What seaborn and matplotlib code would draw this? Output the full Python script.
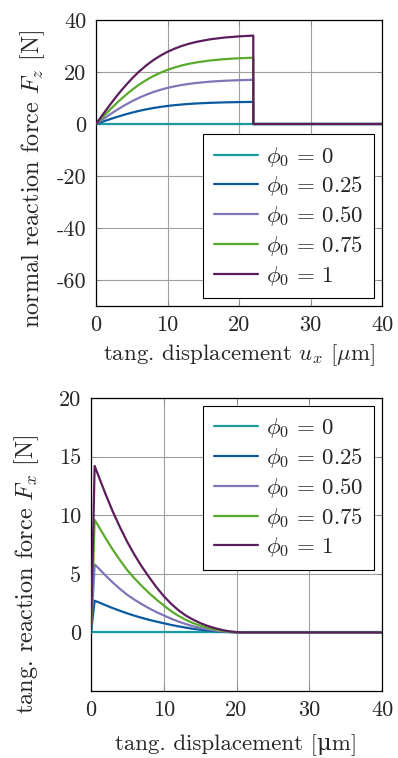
import numpy as np
import pandas as pd
import matplotlib
matplotlib.use("Agg")
import matplotlib.pyplot as plt
import seaborn as sns
from matplotlib.ticker import FuncFormatter

# ---------------- data ----------------
phi_labels = [r"$\phi_0\,=\,0$", r"$\phi_0\,=\,0.25$", r"$\phi_0\,=\,0.50$",
              r"$\phi_0\,=\,0.75$", r"$\phi_0\,=\,1$"]
colors = ["#189ca0", "#0a5aa2", "#7d77b8", "#5aab2c", "#5c1d5c"]

# normal reaction force F_z vs tangential displacement
ux_top = [0, 1, 2, 3, 4, 5, 6, 7, 8, 9, 10, 11, 12, 13, 14, 16, 18, 20, 22, 22, 40]
fz_000 = [0] * 21
fz_025 = [0, 0.96, 1.89, 2.77, 3.6, 4.35, 5.03, 5.62, 6.14, 6.57, 6.94, 7.25, 7.5,
          7.72, 7.89, 8.15, 8.32, 8.43, 8.5, 0, 0]
fz_050 = [0, 1.91, 3.77, 5.55, 7.2, 8.71, 10.06, 11.24, 12.27, 13.14, 13.88, 14.5,
          15.01, 15.43, 15.78, 16.3, 16.63, 16.85, 17.0, 0, 0]
fz_075 = [0, 2.87, 5.66, 8.32, 10.79, 13.06, 15.08, 16.85, 18.41, 19.71, 20.82,
          21.74, 22.52, 23.15, 23.67, 24.44, 24.95, 25.28, 25.5, 0, 0]
fz_100 = [0, 3.82, 7.54, 11.09, 14.39, 17.41, 20.11, 22.47, 24.54, 26.28, 27.76,
          28.99, 30.02, 30.86, 31.56, 32.59, 33.26, 33.70, 34.0, 0, 0]

# tangential reaction force F_x vs tangential displacement
ux_bot = [0, 0.5, 1, 2, 3, 4, 5, 6, 7, 8, 9, 10, 11, 12, 13, 14, 15, 16, 17, 18,
          19, 20, 21, 40]
fx_000 = [0] * 24
fx_025 = [0, 2.7, 2.58, 2.32, 2.07, 1.84, 1.62, 1.42, 1.24, 1.07, 0.92, 0.78, 0.64,
          0.52, 0.41, 0.31, 0.23, 0.16, 0.1, 0.05, 0.02, 0.005, 0, 0]
fx_050 = [0, 5.8, 5.5, 4.85, 4.25, 3.7, 3.2, 2.78, 2.4, 2.05, 1.73, 1.45, 1.18,
          0.93, 0.72, 0.53, 0.38, 0.26, 0.16, 0.09, 0.04, 0.01, 0, 0]
fx_075 = [0, 9.6, 9.1, 8.05, 7.05, 6.15, 5.3, 4.6, 3.95, 3.35, 2.8, 2.3, 1.82,
          1.42, 1.08, 0.8, 0.58, 0.4, 0.26, 0.14, 0.06, 0.01, 0, 0]
fx_100 = [0, 14.2, 13.4, 11.8, 10.3, 8.95, 7.7, 6.6, 5.6, 4.7, 3.85, 3.1, 2.45,
          1.9, 1.45, 1.1, 0.8, 0.56, 0.37, 0.21, 0.09, 0.02, 0, 0]

x_ticks = [0, 10, 20, 30, 40]
top_yticks = [-60, -40, -20, 0, 20, 40]
bot_yticks = [0, 5, 10, 15, 20]

# ---------------- style ----------------
sns.set_theme(style="white")
plt.rcParams["font.family"] = ["cmr10", "DejaVu Serif"]
plt.rcParams["mathtext.fontset"] = "cm"
plt.rcParams["axes.unicode_minus"] = False
plt.rcParams["axes.formatter.use_mathtext"] = True
FS_TICK = 16
FS_TXT = 16.5
FS_YLAB = 17.5

def long_df(x, series):
    frames = []
    for lab, ys in zip(phi_labels, series):
        frames.append(pd.DataFrame({"x": x, "y": ys, "phi": lab}))
    return pd.concat(frames, ignore_index=True)

df_top = long_df(ux_top, [fz_000, fz_025, fz_050, fz_075, fz_100])
df_bot = long_df(ux_bot, [fx_000, fx_025, fx_050, fx_075, fx_100])

fig = plt.figure(figsize=(3.98, 7.58), dpi=100)
W, H = 398, 758
ax1 = fig.add_axes([96 / W, 1 - 306 / H, (382 - 96) / W, (306 - 20) / H])
ax2 = fig.add_axes([91 / W, 1 - 691 / H, (382 - 91) / W, (691 - 398) / H])

fmt = FuncFormatter(lambda v, p: ("%g" % v).replace("\u2212", "-"))

for ax, df, yt, ylim in [(ax1, df_top, top_yticks, (-70, 40)),
                         (ax2, df_bot, bot_yticks, (-5, 20))]:
    sns.lineplot(data=df, x="x", y="y", hue="phi", hue_order=phi_labels,
                 palette=colors, estimator=None, sort=False, lw=1.6,
                 ax=ax, zorder=3)
    ax.set_xlim(0, 40)
    ax.set_ylim(*ylim)
    ax.set_xticks(x_ticks)
    ax.set_yticks(yt)
    ax.xaxis.set_major_formatter(fmt)
    ax.yaxis.set_major_formatter(fmt)
    ax.grid(True, color="#a0a0a0", lw=0.8, zorder=0)
    ax.set_axisbelow(True)
    for s in ax.spines.values():
        s.set_color("black")
        s.set_linewidth(0.9)
    ax.tick_params(direction="in", length=3.5, width=0.7, color="#888888",
                   labelsize=FS_TICK, pad=7, top=True, right=True,
                   bottom=True, left=True)

ax1.set_xlabel(r"tang. displacement $u_x$ [$\mu$m]", fontsize=FS_TXT)
ax1.set_ylabel(r"normal reaction force $F_z$ [N]", fontsize=FS_YLAB)
ax2.set_xlabel("tang. displacement [\u03bcm]", fontsize=FS_TXT)
ax2.set_ylabel(r"tang. reaction force $F_x$ [N]", fontsize=FS_YLAB)

ax1.xaxis.set_label_coords(0.5, (306 - 355) / 286)
ax2.xaxis.set_label_coords(0.5, (691 - 745) / 293)
ax1.xaxis.label.set_va("center")
ax2.xaxis.label.set_va("center")
ax1.yaxis.set_label_coords((33 - 96) / 286, (306 - 179) / 286)
ax2.yaxis.set_label_coords((27 - 91) / 291, (691 - 574) / 293)
ax1.yaxis.label.set_va("center")
ax2.yaxis.label.set_va("center")

for ax, loc in [(ax1, "lower right"), (ax2, "upper right")]:
    h, l = ax.get_legend_handles_labels()
    leg = ax.legend(h, l, loc=loc, fontsize=FS_TXT, frameon=True, fancybox=False,
                    edgecolor="black", framealpha=1, borderaxespad=0.35,
                    handlelength=1.95, handletextpad=0.35, labelspacing=0.25,
                    borderpad=0.45)
    leg.get_frame().set_linewidth(0.8)
    for ln in leg.get_lines():
        ln.set_linewidth(1.6)

fig.savefig("out.png", dpi=100)
